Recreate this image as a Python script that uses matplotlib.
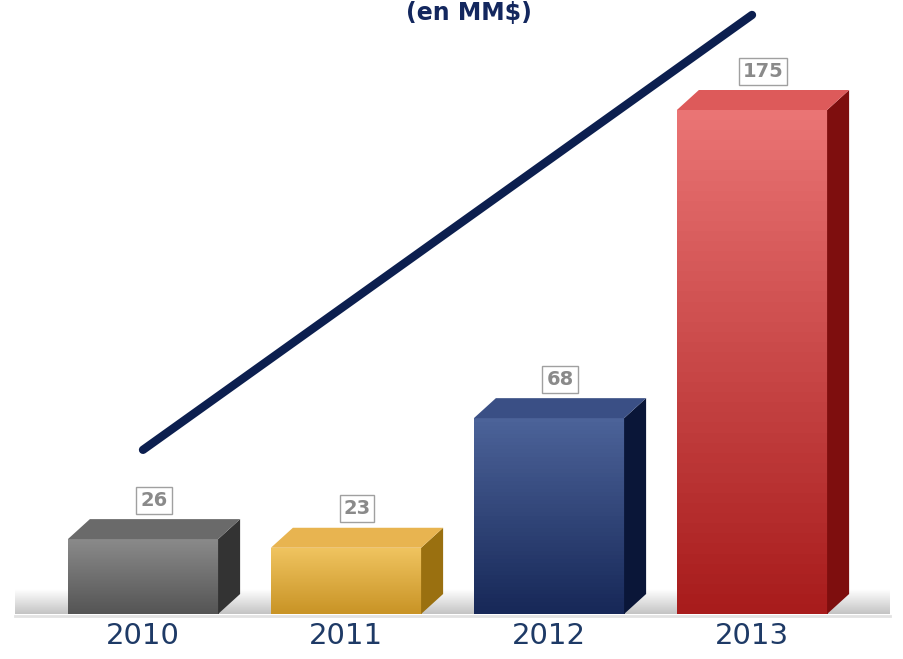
import numpy as np
import matplotlib
matplotlib.use("Agg")
from matplotlib import pyplot as plt
from matplotlib.patches import Polygon
from matplotlib.colors import LinearSegmentedColormap

years = ["2010", "2011", "2012", "2013"]
values = [26, 23, 68, 175]
trend = [57, 208]          # trend line start / end level
title = "(en MM$)"

# front top colour, front bottom colour, side colour, top colour
face_cols = [
    ("#8a8a8a", "#555555", "#333333", "#6a6a6a"),
    ("#f0c460", "#c99426", "#9a7010", "#e8b450"),
    ("#4c6399", "#172858", "#0a1638", "#3a4f85"),
    ("#ea7474", "#a81c1c", "#7e0e0e", "#dd5a5a"),
]

W, H = 904, 659
fig = plt.figure(figsize=(W / 100, H / 100), dpi=100)
ax = fig.add_axes([0, 0, 1, 1])
px_x = 203.0   # pixels per category
px_y = 2.88    # pixels per unit
x0_px, base_px = 143, 45
ax.set_xlim(-x0_px / px_x, (W - x0_px) / px_x)
ax.set_ylim(-base_px / px_y, (H - base_px) / px_y)
ax.axis("off")

bw = 0.74
dx = 22 / px_x
dy = 20 / px_y
xs = np.arange(len(values))

# floor shadow
grad = np.linspace(0, 1, 50).reshape(-1, 1)
floor_cmap = LinearSegmentedColormap.from_list("fl", ["#c4c4c4", "#ffffff"])
ax.imshow(grad, cmap=floor_cmap, aspect="auto", origin="lower",
          extent=(-128 / px_x, (890 - x0_px) / px_x, 0, 8.5), zorder=1)
ax.axhline(-0.6, xmin=15 / W, xmax=890 / W, color="#e2e2e2", lw=2, zorder=1)

bars = ax.bar(xs, values, width=bw, color="none", zorder=3)
for i, (b, v) in enumerate(zip(bars, values)):
    ctop, cbot, cside, ctopf = face_cols[i]
    cmap = LinearSegmentedColormap.from_list("f%d" % i, [cbot, ctop])
    l, r = b.get_x(), b.get_x() + b.get_width()
    im = ax.imshow(grad, cmap=cmap, aspect="auto", origin="lower",
                   extent=(l, r, 0, v), zorder=3)
    im.set_clip_path(b)
    side = Polygon([(r, 0), (r + dx, dy), (r + dx, v + dy), (r, v)],
                   closed=True, fc=cside, ec="none", zorder=3)
    top = Polygon([(l, v), (l + dx, v + dy), (r + dx, v + dy), (r, v)],
                  closed=True, fc=ctopf, ec="none", zorder=3)
    ax.add_patch(side)
    ax.add_patch(top)
    ax.text(b.get_x() + b.get_width() / 2 + dx / 2, v + 13.5, str(v),
            ha="center", va="center", fontsize=14, fontweight="bold",
            color="#8a8a8a", zorder=5,
            bbox=dict(boxstyle="square,pad=0.2", fc="white", ec="#a0a0a0", lw=1))
    ax.text(b.get_x() + b.get_width() / 2, -22 / px_y, years[i], ha="center", va="center",
            fontsize=21, color="#1e3a66", zorder=5)

ax.plot([xs[0], xs[-1]], trend, color="#0c1f4f", lw=6, solid_capstyle="round", zorder=4)

fig.text(469 / W, 1 - 13 / H, title, ha="center", va="center", fontsize=17,
         fontweight="bold", color="#13275e")

fig.savefig("out.png", dpi=100)
